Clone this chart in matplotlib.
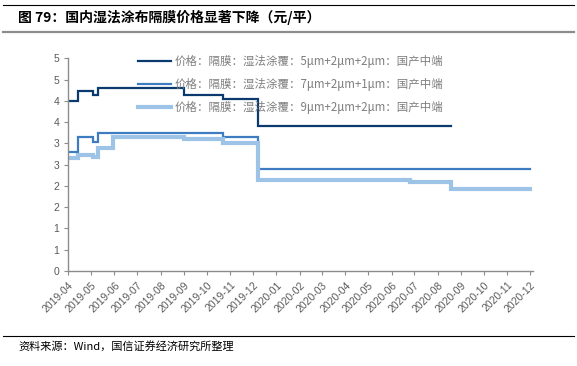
import numpy as np
import pandas as pd
import matplotlib
matplotlib.use("Agg")
import matplotlib.pyplot as plt
import matplotlib.dates as mdates
from matplotlib.ticker import FuncFormatter
from matplotlib.lines import Line2D

plt.rcParams['font.family'] = ['Noto Sans CJK SC', 'DejaVu Sans']

TITLE = "图 79：国内湿法涂布隔膜价格显著下降（元/平）"
SOURCE = "资料来源：Wind，国信证券经济研究所整理"

labels = [
    "价格：隔膜：湿法涂覆：5μm+2μm+2μm：国产中端",
    "价格：隔膜：湿法涂覆：7μm+2μm+1μm：国产中端",
    "价格：隔膜：湿法涂覆：9μm+2μm+2μm：国产中端",
]

# step change dates and levels
dark_dates = ["2019-04-01", "2019-04-14", "2019-05-03", "2019-05-10", "2019-09-01",
              "2019-10-22", "2019-12-08", "2020-08-19"]
dark_vals = [4.00, 4.24, 4.15, 4.30, 4.15, 4.05, 3.40, 3.40]

mid_dates = ["2019-04-01", "2019-04-14", "2019-05-03", "2019-05-10", "2019-10-22",
             "2019-12-08", "2020-12-01"]
mid_vals = [2.80, 3.15, 3.04, 3.25, 3.15, 2.40, 2.40]

light_dates = ["2019-04-01", "2019-04-14", "2019-05-03", "2019-05-10", "2019-05-30",
               "2019-09-01", "2019-10-22", "2019-12-08", "2020-06-26", "2020-08-19",
               "2020-12-01"]
light_vals = [2.65, 2.73, 2.68, 2.90, 3.15, 3.10, 3.00, 2.14, 2.09, 1.94, 1.94]

month_ticks = pd.date_range("2019-04-01", "2020-12-01", freq="MS")

colors = ["#0B3A6F", "#3D7CC0", "#9DC3E6"]
widths = [1.6, 1.6, 3.0]

fig = plt.figure(figsize=(5.77, 3.66), dpi=100)
ax = fig.add_axes([0.1184, 0.2596, 0.8055, 0.5806])

series = [(dark_dates, dark_vals), (mid_dates, mid_vals), (light_dates, light_vals)]
for (d, v), c, w, lab in zip(series, colors, widths, labels):
    ax.plot(pd.to_datetime(d), v, drawstyle="steps-post", color=c, lw=w,
            label=lab, solid_joinstyle="miter")

ax.set_xlim(pd.Timestamp("2019-04-01"), pd.Timestamp("2020-12-05"))
ax.set_ylim(0, 5)
ax.set_yticks(np.arange(0, 5.01, 0.5))
ax.yaxis.set_major_formatter(FuncFormatter(lambda v, _: str(int(np.floor(v + 0.5)))))
ax.set_xticks(month_ticks)
ax.xaxis.set_major_formatter(mdates.DateFormatter("%Y-%m"))

for s in ["top", "right"]:
    ax.spines[s].set_visible(False)
for s in ["left", "bottom"]:
    ax.spines[s].set_color("#8C8C8C")
    ax.spines[s].set_linewidth(1.0)

ax.tick_params(axis="both", colors="#8C8C8C", labelcolor="#595959", length=3,
               width=0.8, labelsize=7.5)
for t in ax.get_yticklabels() + ax.get_xticklabels():
    t.set_fontfamily(["Liberation Sans", "DejaVu Sans"])
plt.setp(ax.get_xticklabels(), rotation=45, ha="right", rotation_mode="anchor")

leg = ax.legend(loc="upper left", bbox_to_anchor=(138 / 577, 1 - 55 / 366),
                bbox_transform=fig.transFigure, frameon=False, fontsize=8.25,
                handlelength=2.9, handletextpad=0.3, labelspacing=0.88,
                borderpad=0, borderaxespad=0)
for t in leg.get_texts():
    t.set_color("#7F7F7F")

# header and footer rules
fig.add_artist(Line2D([0.005, 0.995], [1 - 4.5 / 366] * 2, color="black", lw=0.8))
fig.add_artist(Line2D([0.005, 0.995], [1 - 32 / 366] * 2, color="#8C8C8C", lw=1.6))
fig.add_artist(Line2D([0.005, 0.995], [1 - 336 / 366] * 2, color="black", lw=0.8))

fig.text(18 / 577, 1 - 17.5 / 366, TITLE, fontsize=10, fontweight="bold", va="center")
fig.text(18 / 577, 1 - 346 / 366, SOURCE, fontsize=8, va="center")

fig.savefig("out.png", dpi=100)
